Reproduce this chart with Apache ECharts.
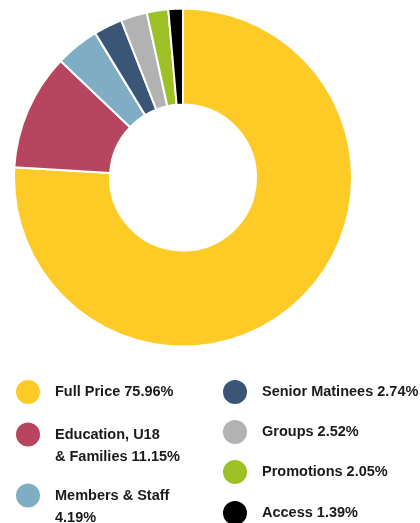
<!DOCTYPE html>
<html>
<head>
<meta charset="utf-8">
<script src="https://cdn.jsdelivr.net/npm/echarts@6/dist/echarts.min.js"></script>
<style>
  html, body { margin: 0; padding: 0; background: #fff; }
  #chart { width: 420px; height: 523px; }
</style>
</head>
<body>
<div id="chart"></div>
<script>
// ticket mix, clockwise from 12 o'clock
const names = [
  "Full Price",
  "Education, U18 & Families",
  "Members & Staff",
  "Senior Matinees",
  "Groups",
  "Promotions",
  "Access",
];
const values = [75.96, 11.15, 4.19, 2.74, 2.52, 2.05, 1.39];
const colors = ["#fecb26", "#b84560", "#7fadc3", "#3a5576", "#b2b2b2", "#9cc026", "#000000"];

// legend text, with the line breaks the print layout uses
const labels = names.map((n, i) => n + " " + values[i].toFixed(2) + "%");
labels[1] = labels[1].replace("U18 ", "U18\n");
labels[2] = labels[2].replace("Staff ", "Staff\n");

const chart = echarts.init(document.getElementById("chart"));

const textStyle = {
  fontFamily: "Liberation Sans, Arial, sans-serif",
  fontWeight: "bold",
  fontSize: 14.5,
  lineHeight: 22,
  color: "#1a1a1a",
  padding: [5, 0, 0, 9],
};

// one legend per item so each circle can sit where the print has it
const legendPos = [
  { left: 14, top: 378 },
  { left: 14, top: 399 },
  { left: 14, top: 460 },
  { left: 221, top: 378 },
  { left: 221, top: 418 },
  { left: 221, top: 458 },
  { left: 221, top: 499 },
];

const legend = names.map((n, i) => ({
  data: [n],
  left: legendPos[i].left,
  top: legendPos[i].top,
  padding: 0,
  orient: "vertical",
  icon: "circle",
  itemWidth: 26,
  itemHeight: 26,
  selectedMode: false,
  textStyle: textStyle,
  // two-line items get a blank first line so the circle lines up with line one
  formatter: () => (labels[i].indexOf("\n") >= 0 ? "\n" + labels[i] : labels[i]),
}));

chart.setOption({
  animation: false,
  color: colors,
  legend: legend,
  series: [
    {
      type: "pie",
      center: [183, 177.5],
      radius: [73, 169],
      startAngle: 90,
      clockwise: true,
      silent: true,
      label: { show: false },
      labelLine: { show: false },
      itemStyle: { borderColor: "#fff", borderWidth: 2 },
      data: names.map((n, i) => ({ name: n, value: values[i] })),
    },
  ],
});
</script>
</body>
</html>
